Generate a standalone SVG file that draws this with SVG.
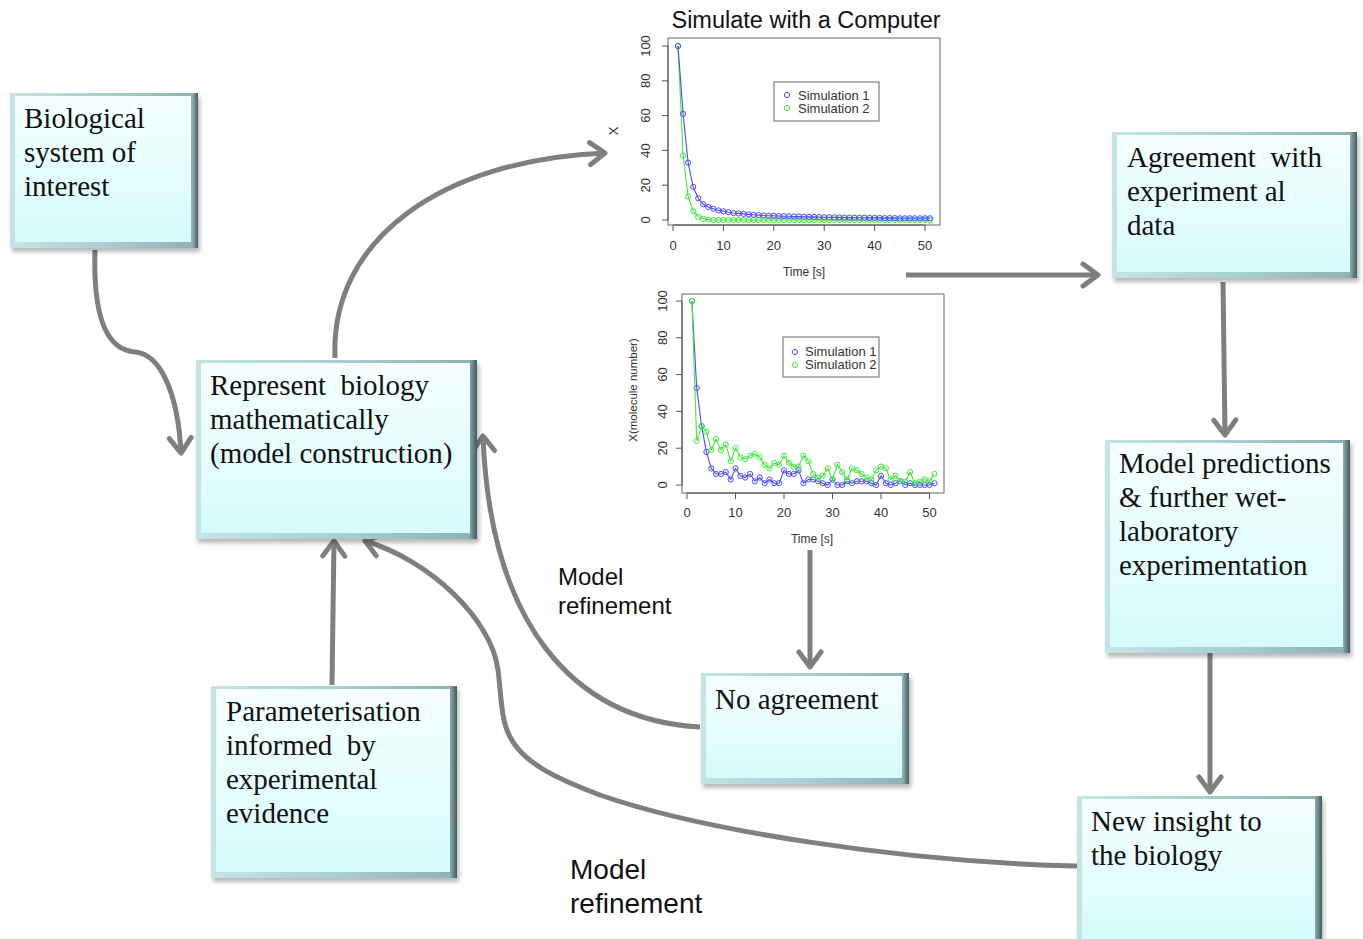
<svg xmlns="http://www.w3.org/2000/svg" width="1363" height="939" viewBox="0 0 1363 939">
<style>
.bt{font-family:"Liberation Serif","Times New Roman",serif;font-size:29px;fill:#111;white-space:pre}
.lab{font-family:"Liberation Sans",Arial,sans-serif;fill:#111}
.ax{font-family:"Liberation Sans",Arial,sans-serif;font-size:13px;fill:#333}
.frame{fill:none;stroke:#666;stroke-width:1}
.tick{stroke:#555;stroke-width:1;fill:none}
.conn{fill:none;stroke:#7f7f7f;stroke-width:5;marker-end:url(#ah)}
.edge{fill:url(#edgeG)}
.face{fill:url(#faceG)}
.shadow{fill:#000;opacity:.28;filter:url(#blur)}
.sb{fill:none;stroke:#4b4bff;stroke-width:1.1;marker-start:url(#cb);marker-mid:url(#cb);marker-end:url(#cb)}
.sg{fill:none;stroke:#3fe83f;stroke-width:1.1;marker-start:url(#cg);marker-mid:url(#cg);marker-end:url(#cg)}
</style>
<defs>
<linearGradient id="edgeG" x1="0" y1="0" x2="1" y2="0">
<stop offset="0" stop-color="#c4e4e5"/><stop offset="0.5" stop-color="#a8cfd1"/><stop offset="0.97" stop-color="#8fb2b4"/><stop offset="1" stop-color="#3f5e60"/>
</linearGradient>
<linearGradient id="faceG" x1="0" y1="0" x2="0" y2="1">
<stop offset="0" stop-color="#f6ffff"/><stop offset="1" stop-color="#d6fbfb"/>
</linearGradient>
<filter id="blur" x="-10%" y="-10%" width="120%" height="120%"><feGaussianBlur stdDeviation="2"/></filter>
<marker id="ah" markerUnits="userSpaceOnUse" markerWidth="40" markerHeight="40" viewBox="-20 -20 40 40" refX="0" refY="0" orient="auto" overflow="visible">
<path d="M-15,-11 L0,0 L-15,11" fill="none" stroke="#7f7f7f" stroke-width="5" stroke-linecap="round" stroke-linejoin="round"/>
</marker>
<marker id="cb" markerUnits="userSpaceOnUse" markerWidth="8" markerHeight="8" viewBox="-4 -4 8 8" refX="0" refY="0" overflow="visible">
<circle r="2.6" fill="none" stroke="#4b4bff" stroke-width="1"/>
</marker>
<marker id="cg" markerUnits="userSpaceOnUse" markerWidth="8" markerHeight="8" viewBox="-4 -4 8 8" refX="0" refY="0" overflow="visible">
<circle r="2.6" fill="none" stroke="#3fe83f" stroke-width="1"/>
</marker>
</defs>
<rect width="1363" height="939" fill="#fff"/>

<!-- Plot 1 -->
<g id="plot1">
<text class="lab" x="806" y="28" font-size="23.5" text-anchor="middle">Simulate with a Computer</text>
<rect class="frame" x="668" y="38" width="272" height="187"/>
<path class="tick" d="M673,225 H925 M673,225 v6 M723.4,225 v6 M773.8,225 v6 M824.2,225 v6 M874.6,225 v6 M925,225 v6"/>
<path class="tick" d="M668,46 V220 M668,220 h-6 M668,185.2 h-6 M668,150.4 h-6 M668,115.6 h-6 M668,80.8 h-6 M668,46 h-6"/>
<g class="ax" text-anchor="middle">
<text x="673" y="250">0</text><text x="723.4" y="250">10</text><text x="773.8" y="250">20</text><text x="824.2" y="250">30</text><text x="874.6" y="250">40</text><text x="925" y="250">50</text>
<text transform="translate(650,220) rotate(-90)">0</text>
<text transform="translate(650,185.2) rotate(-90)">20</text>
<text transform="translate(650,150.4) rotate(-90)">40</text>
<text transform="translate(650,115.6) rotate(-90)">60</text>
<text transform="translate(650,80.8) rotate(-90)">80</text>
<text transform="translate(650,46) rotate(-90)">100</text>
<text x="804" y="276" font-size="12">Time [s]</text>
<text transform="translate(618,131) rotate(-90)" font-size="13">X</text>
</g>
<polyline class="sg" points="678.0,46 683.1,155.6 688.1,196.5 693.2,211.3 698.2,216.9 703.2,218.8 708.3,219.6 713.3,220 718.4,220 723.4,220 728.4,220 733.5,220 738.5,220 743.6,220 748.6,220 753.6,220 758.7,220 763.7,220 768.8,220 773.8,220 778.8,220 783.9,220 788.9,220 794.0,220 799.0,220 804.0,220 809.1,220 814.1,220 819.2,220 824.2,220 829.2,220 834.3,220 839.3,220 844.4,220 849.4,220 854.4,220 859.5,220 864.5,220 869.6,220 874.6,220 879.6,220 884.7,220 889.7,220 894.8,220 899.8,220 904.8,220 909.9,220 914.9,220 920.0,220 925.0,220 930.0,220"/>
<polyline class="sb" points="678.0,46 683.1,113.9 688.1,162.6 693.2,186.9 698.2,198.3 703.2,204.3 708.3,206.9 713.3,208.7 718.4,210.4 723.4,211.3 728.4,212.2 733.5,213.0 738.5,213.4 743.6,213.9 748.6,214.4 753.6,214.8 758.7,215.1 763.7,215.5 768.8,215.7 773.8,215.8 778.8,216.0 783.9,216.2 788.9,216.3 794.0,216.5 799.0,216.5 804.0,216.7 809.1,216.9 814.1,216.9 819.2,217.0 824.2,217.2 829.2,217.2 834.3,217.4 839.3,217.4 844.4,217.6 849.4,217.6 854.4,217.7 859.5,217.7 864.5,217.7 869.6,217.9 874.6,217.9 879.6,217.9 884.7,218.1 889.7,218.1 894.8,218.1 899.8,218.3 904.8,218.3 909.9,218.3 914.9,218.3 920.0,218.3 925.0,218.3 930.0,218.3"/>
<rect class="frame" x="774" y="82" width="105" height="39" fill="#fff"/>
<circle cx="787" cy="95" r="2.6" fill="none" stroke="#4b4bff"/>
<circle cx="787" cy="108" r="2.6" fill="none" stroke="#3fe83f"/>
<text class="ax" x="798" y="99.5" font-size="12.5">Simulation 1</text>
<text class="ax" x="798" y="112.5" font-size="12.5">Simulation 2</text>
</g>

<!-- Plot 2 -->
<g id="plot2">
<rect class="frame" x="682" y="294" width="262" height="199"/>
<path class="tick" d="M687,493 H929.5 M687,493 v6 M735.5,493 v6 M784,493 v6 M832.5,493 v6 M881,493 v6 M929.5,493 v6"/>
<path class="tick" d="M682,301 V485 M682,485 h-6 M682,448.2 h-6 M682,411.4 h-6 M682,374.6 h-6 M682,337.8 h-6 M682,301 h-6"/>
<g class="ax" text-anchor="middle">
<text x="687" y="517">0</text><text x="735.5" y="517">10</text><text x="784" y="517">20</text><text x="832.5" y="517">30</text><text x="881" y="517">40</text><text x="929.5" y="517">50</text>
<text transform="translate(667,485) rotate(-90)">0</text>
<text transform="translate(667,448.2) rotate(-90)">20</text>
<text transform="translate(667,411.4) rotate(-90)">40</text>
<text transform="translate(667,374.6) rotate(-90)">60</text>
<text transform="translate(667,337.8) rotate(-90)">80</text>
<text transform="translate(667,301) rotate(-90)">100</text>
<text x="812" y="543" font-size="12">Time [s]</text>
<text transform="translate(637,390) rotate(-90)" font-size="11.5">X(molecule number)</text>
</g>
<polyline class="sb" points="691.9,301 696.7,388.0 701.6,426.1 706.4,451.9 711.3,468.4 716.1,474.0 721.0,474.0 725.8,472.1 730.7,479.5 735.5,468.4 740.4,475.8 745.2,477.6 750.1,474.0 754.9,481.3 759.8,477.6 764.6,483.2 769.5,479.5 774.3,483.2 779.2,483.2 784.0,470.3 788.9,474.0 793.7,474.0 798.6,470.3 803.4,483.2 808.3,479.5 813.1,479.5 818.0,481.3 822.8,483.2 827.7,485 832.5,479.5 837.4,485 842.2,485 847.1,481.3 851.9,483.2 856.8,481.3 861.6,481.3 866.5,481.3 871.3,483.2 876.2,485 881.0,475.8 885.9,483.2 890.7,485 895.6,483.2 900.4,481.3 905.3,485 910.1,483.2 915.0,485 919.8,485 924.7,485 929.5,485 934.4,483.2"/>
<polyline class="sg" points="691.9,301 696.7,440.8 701.6,426.1 706.4,431.6 711.3,450.0 716.1,439.0 721.0,450.0 725.8,444.5 730.7,461.1 735.5,448.2 740.4,457.4 745.2,459.2 750.1,455.6 754.9,453.7 759.8,457.4 764.6,464.8 769.5,468.4 774.3,462.9 779.2,464.8 784.0,455.6 788.9,462.9 793.7,466.6 798.6,466.6 803.4,455.6 808.3,461.1 813.1,474.0 818.0,477.6 822.8,475.8 827.7,468.4 832.5,479.5 837.4,464.8 842.2,472.1 847.1,479.5 851.9,468.4 856.8,470.3 861.6,474.0 866.5,477.6 871.3,479.5 876.2,470.3 881.0,466.6 885.9,468.4 890.7,479.5 895.6,475.8 900.4,481.3 905.3,481.3 910.1,472.1 915.0,483.2 919.8,481.3 924.7,479.5 929.5,481.3 934.4,474.0"/>
<rect class="frame" x="783" y="337" width="96" height="40" fill="#fff"/>
<circle cx="795" cy="352" r="2.6" fill="none" stroke="#4b4bff"/>
<circle cx="795" cy="365" r="2.6" fill="none" stroke="#3fe83f"/>
<text class="ax" x="805" y="356" font-size="11.8">Simulation 1</text>
<text class="ax" x="805" y="369" font-size="11.8">Simulation 2</text>
</g>

<!-- Connectors -->
<g id="connectors">
<path class="conn" d="M95,250 C93,312 105,350 135,352 C160,354 178,392 181,453"/>
<path class="conn" d="M335,358 C330,240 440,160 605,153"/>
<path class="conn" d="M906,275 L1098,275"/>
<path class="conn" d="M1223,282 L1225,435"/>
<path class="conn" d="M1210,653 L1210,792"/>
<path class="conn" d="M810,550 L810,667"/>
<path class="conn" d="M700,727 C570,720 490,620 483,436"/>
<path class="conn" d="M1077,866 C900,862 700,830 600,795 C555,778 530,765 515,745 C500,725 502,700 498,670 C492,620 430,560 365,541"/>
<path class="conn" d="M332,685 L334,541"/>
</g>

<!-- Labels -->
<g id="labels" class="lab">
<text x="558" y="585" font-size="24">Model</text>
<text x="558" y="614" font-size="24">refinement</text>
<text x="570" y="879" font-size="28">Model</text>
<text x="570" y="913" font-size="28">refinement</text>
</g>

<!-- Nodes -->
<g id="n-bio" transform="translate(10,93)">
<rect class="shadow" x="2" y="4" width="188" height="155"/>
<rect class="edge" width="188" height="155"/>
<rect class="face" x="5" y="3" width="176" height="146"/>
<text class="bt" x="14" y="35">Biological</text>
<text class="bt" x="14" y="69">system of</text>
<text class="bt" x="14" y="103">interest</text>
</g>
<g id="n-represent" transform="translate(196,360)">
<rect class="shadow" x="2" y="4" width="281" height="179"/>
<rect class="edge" width="281" height="179"/>
<rect class="face" x="5" y="3" width="269" height="170"/>
<text class="bt" x="14" y="35">Represent  biology</text>
<text class="bt" x="14" y="69">mathematically</text>
<text class="bt" x="14" y="103">(model construction)</text>
</g>
<g id="n-agree" transform="translate(1112,132)">
<rect class="shadow" x="2" y="4" width="245" height="146"/>
<rect class="edge" width="245" height="146"/>
<rect class="face" x="5" y="3" width="233" height="137"/>
<text class="bt" x="15" y="35">Agreement  with</text>
<text class="bt" x="15" y="69">experiment al</text>
<text class="bt" x="15" y="103">data</text>
</g>
<g id="n-predict" transform="translate(1105,440)">
<rect class="shadow" x="2" y="4" width="245" height="213"/>
<rect class="edge" width="245" height="213"/>
<rect class="face" x="5" y="3" width="233" height="204"/>
<text class="bt" x="14" y="33">Model predictions</text>
<text class="bt" x="14" y="67">&amp; further wet-</text>
<text class="bt" x="14" y="101">laboratory</text>
<text class="bt" x="14" y="135">experimentation</text>
</g>
<g id="n-param" transform="translate(211,686)">
<rect class="shadow" x="2" y="4" width="246" height="192"/>
<rect class="edge" width="246" height="192"/>
<rect class="face" x="5" y="3" width="234" height="183"/>
<text class="bt" x="15" y="35">Parameterisation</text>
<text class="bt" x="15" y="69">informed  by</text>
<text class="bt" x="15" y="103">experimental</text>
<text class="bt" x="15" y="137">evidence</text>
</g>
<g id="n-noagree" transform="translate(701,673)">
<rect class="shadow" x="2" y="4" width="208" height="111"/>
<rect class="edge" width="208" height="111"/>
<rect class="face" x="5" y="3" width="196" height="102"/>
<text class="bt" x="14" y="36">No agreement</text>
</g>
<g id="n-insight" transform="translate(1077,796)">
<rect class="shadow" x="2" y="4" width="245" height="150"/>
<rect class="edge" width="245" height="150"/>
<rect class="face" x="5" y="3" width="233" height="141"/>
<text class="bt" x="14" y="35">New insight to</text>
<text class="bt" x="14" y="69">the biology</text>
</g>
</svg>
